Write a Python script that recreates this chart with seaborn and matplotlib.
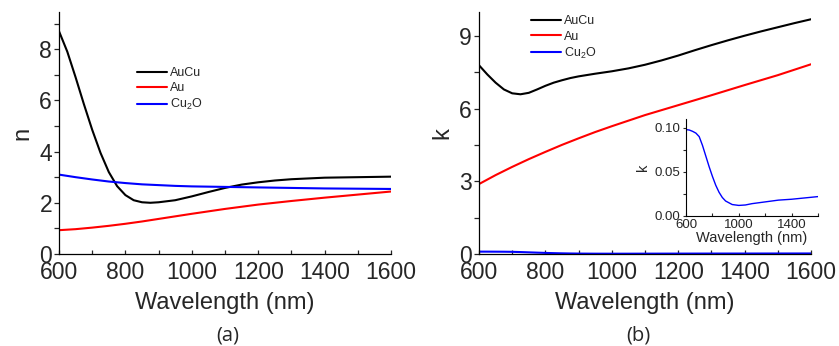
import numpy as np
import pandas as pd
import matplotlib
matplotlib.use("Agg")
import matplotlib.pyplot as plt
import seaborn as sns

# ---------------- data ----------------
wl_n_aucu = [600, 625, 650, 675, 700, 725, 750, 775, 800, 825, 850, 875, 900,
             950, 1000, 1050, 1100, 1150, 1200, 1250, 1300, 1400, 1500, 1600]
n_aucu = [8.7, 7.9, 6.9, 5.85, 4.85, 3.95, 3.2, 2.65, 2.3, 2.1, 2.02, 2.0, 2.02,
          2.1, 2.25, 2.42, 2.58, 2.71, 2.8, 2.87, 2.92, 2.98, 3.0, 3.02]

wl_std = [600, 650, 700, 750, 800, 850, 900, 950, 1000, 1100, 1200, 1300, 1400,
          1500, 1600]
n_au = [0.93, 0.97, 1.03, 1.1, 1.18, 1.27, 1.37, 1.47, 1.57, 1.76, 1.93, 2.07,
        2.2, 2.32, 2.44]
n_cu2o = [3.1, 3.0, 2.91, 2.83, 2.77, 2.72, 2.69, 2.66, 2.64, 2.62, 2.6, 2.58,
          2.56, 2.55, 2.54]

wl_k_aucu = [600, 625, 650, 675, 700, 725, 750, 775, 800, 825, 850, 875, 900,
             950, 1000, 1050, 1100, 1150, 1200, 1250, 1300, 1350, 1400, 1450,
             1500, 1550, 1600]
k_aucu = [7.8, 7.42, 7.08, 6.8, 6.64, 6.6, 6.66, 6.8, 6.95, 7.08, 7.18, 7.27,
          7.34, 7.45, 7.55, 7.67, 7.82, 8.0, 8.2, 8.42, 8.63, 8.83, 9.02, 9.2,
          9.37, 9.54, 9.7]
k_au = [2.89, 3.26, 3.6, 3.92, 4.22, 4.51, 4.78, 5.04, 5.28, 5.74, 6.15, 6.56,
        6.98, 7.39, 7.84]

wl_k_cu2o = [600, 625, 650, 675, 700, 725, 750, 775, 800, 825, 850, 875, 900,
             950, 1000, 1050, 1100, 1200, 1300, 1400, 1500, 1600]
k_cu2o = [0.098, 0.0975, 0.096, 0.094, 0.090, 0.080, 0.068, 0.056, 0.045, 0.035,
          0.027, 0.021, 0.017, 0.013, 0.012, 0.0125, 0.014, 0.016, 0.018, 0.019,
          0.0205, 0.022]

labels = ["AuCu", "Au", "Cu$_2$O"]
colors = ["black", "red", "blue"]
panel_tags = ["(a)", "(b)"]

# ---------------- style ----------------
sns.set_style("ticks")
plt.rcParams["font.family"] = ["Liberation Sans", "DejaVu Sans"]
plt.rcParams["mathtext.fontset"] = "custom"
plt.rcParams["mathtext.rm"] = "Liberation Sans"
plt.rcParams["mathtext.it"] = "Liberation Sans:italic"
plt.rcParams["lines.solid_joinstyle"] = "round"

W, H = 839, 346
fig = plt.figure(figsize=(W / 100, H / 100), dpi=100)


def frac(x0, y0, x1, y1):
    return [x0 / W, 1 - y1 / H, (x1 - x0) / W, (y1 - y0) / H]


ax1 = fig.add_axes(frac(59, 12, 391, 254))
ax2 = fig.add_axes(frac(479, 12, 811, 254))
axi = fig.add_axes(frac(686, 119, 818, 216))


def style_axis(ax, fs, lw_axis):
    for s in ["top", "right"]:
        ax.spines[s].set_visible(False)
    for s in ["left", "bottom"]:
        ax.spines[s].set_linewidth(lw_axis)
        ax.spines[s].set_color("black")
    ax.tick_params(axis="x", which="both", direction="in", length=3, width=lw_axis,
                   labelsize=fs, pad=5)
    ax.tick_params(axis="y", which="both", direction="out", length=3.5, width=lw_axis,
                   labelsize=fs, pad=1.5)


# panel (a)
sns.lineplot(x=wl_n_aucu, y=n_aucu, ax=ax1, color=colors[0], lw=1.5, label=labels[0])
sns.lineplot(x=wl_std, y=n_au, ax=ax1, color=colors[1], lw=1.5, label=labels[1])
sns.lineplot(x=wl_std, y=n_cu2o, ax=ax1, color=colors[2], lw=1.5, label=labels[2])
ax1.set_xlim(600, 1600)
ax1.set_ylim(0, 9.45)
ax1.set_xticks([600, 800, 1000, 1200, 1400, 1600])
ax1.set_xticks([700, 900, 1100, 1300, 1500], minor=True)
ax1.set_yticks([0, 2, 4, 6, 8])
ax1.set_yticks([1, 3, 5, 7, 9], minor=True)
style_axis(ax1, 16.5, 0.9)
ax1.set_xlabel("Wavelength (nm)", fontsize=17, labelpad=6)
ax1.set_ylabel("n", fontsize=17, labelpad=4)

# panel (b)
sns.lineplot(x=wl_k_aucu, y=k_aucu, ax=ax2, color=colors[0], lw=1.5, label=labels[0])
sns.lineplot(x=wl_std, y=k_au, ax=ax2, color=colors[1], lw=1.5, label=labels[1])
sns.lineplot(x=wl_k_cu2o, y=k_cu2o, ax=ax2, color=colors[2], lw=1.5, label=labels[2])
ax2.set_xlim(600, 1600)
ax2.set_ylim(0, 10)
ax2.set_xticks([600, 800, 1000, 1200, 1400, 1600])
ax2.set_xticks([700, 900, 1100, 1300, 1500], minor=True)
ax2.set_yticks([0, 3, 6, 9])
ax2.set_yticks([1.5, 4.5, 7.5], minor=True)
style_axis(ax2, 16.5, 0.9)
ax2.set_xlabel("Wavelength (nm)", fontsize=17, labelpad=6)
ax2.set_ylabel("k", fontsize=17, labelpad=4)

# inset
sns.lineplot(x=wl_k_cu2o, y=k_cu2o, ax=axi, color=colors[2], lw=1.0)
axi.set_xlim(600, 1600)
axi.set_ylim(0, 0.11)
axi.set_xticks([600, 1000, 1400])
axi.set_xticks([800, 1200, 1600], minor=True)
axi.set_yticks([0.0, 0.05, 0.10])
axi.set_yticks([0.025, 0.075], minor=True)
axi.set_yticklabels(["0.00", "0.05", "0.10"])
style_axis(axi, 9.5, 0.8)
axi.tick_params(axis="x", which="both", length=2.5, pad=2.5)
axi.tick_params(axis="y", which="both", length=2.5, pad=1.5)
axi.set_facecolor("none")
axi.set_xlabel("Wavelength (nm)", fontsize=10.5, labelpad=0)
axi.set_ylabel("k", fontsize=10.5, labelpad=3)

# legends
for ax, (lx, ly) in [(ax1, (137, 67)), (ax2, (531, 15.5))]:
    ax.legend(loc="upper left", bbox_to_anchor=(lx / W, 1 - ly / H),
              bbox_transform=fig.transFigure, frameon=False, fontsize=9,
              handlelength=2.4, handletextpad=0.25, labelspacing=0.25,
              borderpad=0, borderaxespad=0)

# panel tags
fig.text(228 / W, 1 - 335 / H, panel_tags[0], ha="center", va="center",
         fontsize=14.5, family=["Open Sans", "DejaVu Sans"])
fig.text(638 / W, 1 - 335 / H, panel_tags[1], ha="center", va="center",
         fontsize=14.5, family=["Open Sans", "DejaVu Sans"])

fig.savefig("out.png", dpi=100)
